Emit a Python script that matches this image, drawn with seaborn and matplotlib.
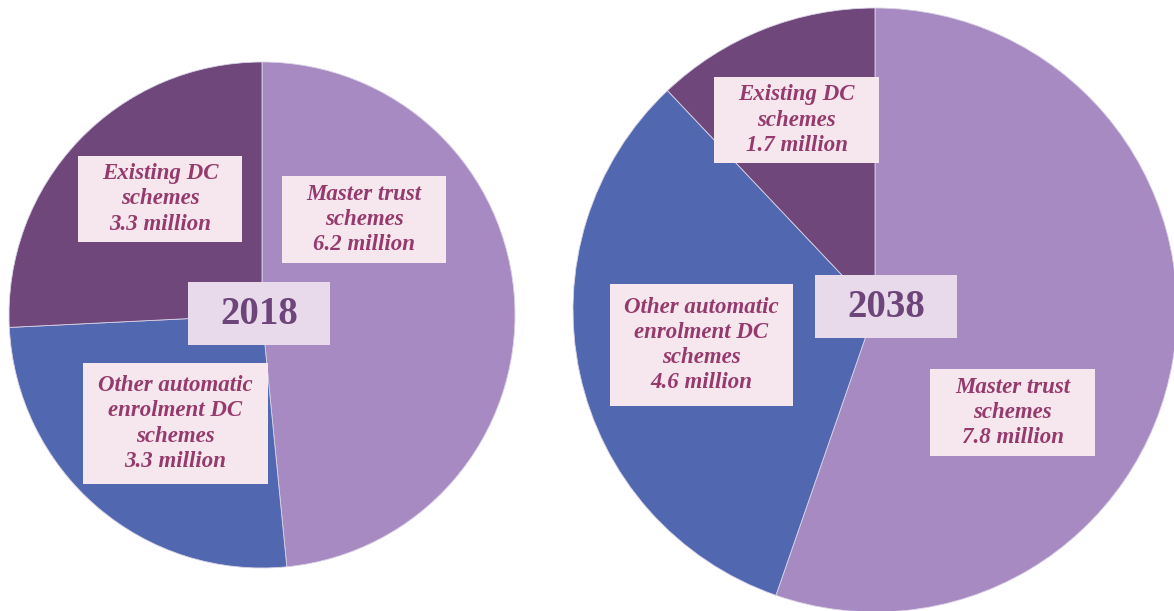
import matplotlib
matplotlib.use("Agg")
import matplotlib.pyplot as plt
from matplotlib.patches import Rectangle
import seaborn as sns

# Members (millions) by scheme type
categories = ["Master trust\nschemes",
              "Other automatic\nenrolment DC\nschemes",
              "Existing DC\nschemes"]
members_2018 = [6.2, 3.3, 3.3]
members_2038 = [7.8, 4.6, 1.7]
years = ["2018", "2038"]

sns.set_theme(style="white")
plt.rcParams["font.family"] = ["Liberation Serif", "DejaVu Serif"]

slice_colors = ["#A78AC2", "#5168B0", "#6F477B"]
label_fill = "#F6E7EE"
label_text = "#953A6D"
year_fill = "#E8DAEA"
year_text = "#6E457A"

W, H = 1174, 611
fig = plt.figure(figsize=(W / 100, H / 100), dpi=100)
ax = fig.add_axes([0, 0, 1, 1])

# layout in pixel units: pie centre/radius, year box and label boxes (x, top, w, h)
layout = [
    dict(center=(262, 315), radius=253, year_box=(188, 282, 142, 63),
         label_boxes=[(282, 176, 164, 87), (83, 363, 185, 121), (78, 156, 164, 86)]),
    dict(center=(875, 310), radius=302, year_box=(815, 275, 142, 63),
         label_boxes=[(930, 369, 165, 87), (610, 284, 183, 122), (714, 77, 165, 86)]),
]


def add_box(x, top, w, h, fill):
    ax.add_patch(Rectangle((x, H - top - h), w, h, facecolor=fill,
                           edgecolor="none", zorder=3))
    return x + w / 2, H - top - h / 2


for values, year, lay in zip([members_2018, members_2038], years, layout):
    cx, cy = lay["center"]
    ax.pie(values, colors=slice_colors, startangle=90, counterclock=False,
           center=(cx, H - cy), radius=lay["radius"],
           wedgeprops=dict(linewidth=0.6, edgecolor="#D9D2E6"))
    for cat, val, box in zip(categories, values, lay["label_boxes"]):
        tx, ty = add_box(*box, label_fill)
        ax.text(tx, ty, f"{cat}\n{val:.1f} million", ha="center", va="center",
                fontsize=16.5, fontstyle="italic", fontweight="bold",
                color=label_text, linespacing=1.27, zorder=4)
    tx, ty = add_box(*lay["year_box"], year_fill)
    ax.text(tx, ty - 1, year, ha="center", va="center", fontsize=28,
            fontweight="bold", color=year_text, zorder=4)

ax.set_xlim(0, W)
ax.set_ylim(0, H)
ax.set_aspect("equal")
ax.axis("off")
fig.savefig("out.png", dpi=100, facecolor="white")
